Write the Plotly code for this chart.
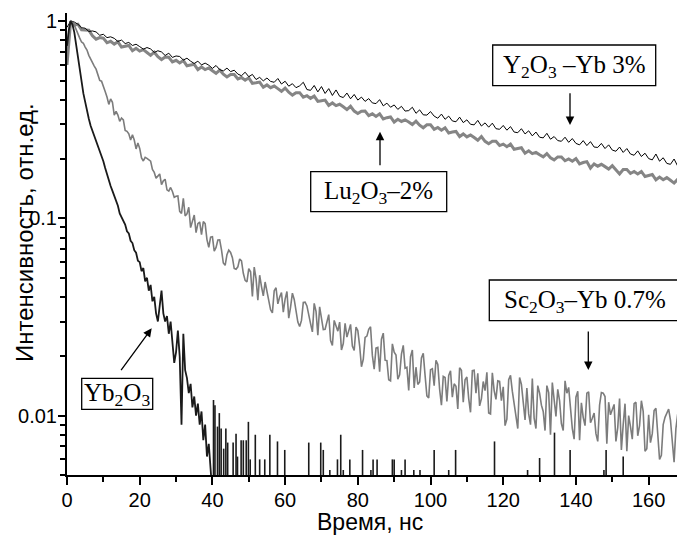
import plotly.graph_objects as go

# ---------------- data ----------------
# 1-ns time grid for Y2O3, Lu2O3 and Sc2O3 curves
t_ns = list(range(0, 171))
# extra half-ns samples of the (very noisy) Sc2O3 curve
t_half_ns = [t + 0.5 for t in range(0, 170)]

# Y2O3-Yb 3%  (intensity x 1e-3)
y2o3_milli = [
    930, 1000, 990, 965, 926, 921, 887, 892, 882, 848,
    858, 825, 833, 818, 789, 802, 770, 780, 753, 764,
    743, 721, 735, 723, 694, 708, 698, 670, 688, 655,
    666, 662, 635, 649, 627, 610, 627, 600, 613, 598,
    576, 596, 568, 559, 578, 555, 564, 539, 529, 551,
    523, 537, 506, 519, 498, 515, 495, 490, 512, 480,
    496, 468, 482, 460, 470, 490, 450, 446, 472, 438,
    466, 430, 455, 420, 448, 416, 410, 432, 404, 425,
    398, 412, 392, 405, 385, 382, 400, 372, 384, 366,
    376, 357, 370, 350, 352, 366, 341, 355, 335, 334,
    348, 330, 322, 338, 318, 330, 312, 309, 326, 306,
    316, 300, 298, 314, 294, 305, 290, 304, 285, 283,
    296, 280, 292, 274, 272, 285, 268, 278, 262, 274,
    258, 256, 270, 252, 260, 248, 246, 258, 243, 254,
    240, 236, 248, 234, 245, 230, 229, 240, 226, 236,
    222, 219, 230, 216, 226, 212, 209, 220, 206, 214,
    201, 198, 212, 195, 203, 190, 188, 200, 184, 190,
    180,
]

# Lu2O3-2%  (intensity x 1e-3)
lu2o3_milli = [
    600, 1000, 955, 965, 905, 900, 900, 843, 810, 826,
    820, 777, 791, 765, 786, 739, 745, 753, 708, 729,
    705, 717, 694, 671, 696, 660, 639, 658, 656, 622,
    633, 614, 631, 594, 599, 604, 568, 586, 568, 579,
    561, 544, 565, 538, 521, 536, 536, 509, 518, 502,
    516, 484, 487, 491, 462, 475, 460, 469, 455, 441,
    458, 436, 422, 434, 434, 412, 419, 406, 417, 392,
    395, 398, 374, 385, 373, 379, 368, 356, 370, 350,
    340, 349, 350, 332, 339, 329, 339, 319, 324, 327,
    308, 318, 310, 316, 308, 299, 311, 297, 288, 298,
    298, 283, 289, 280, 288, 271, 274, 276, 260, 268,
    259, 265, 257, 249, 260, 246, 239, 246, 246, 234,
    238, 231, 238, 224, 226, 228, 214, 220, 213, 216,
    210, 205, 213, 203, 198, 205, 205, 196, 200, 195,
    201, 189, 192, 194, 180, 189, 184, 188, 183, 178,
    185, 176, 168, 177, 177, 169, 173, 168, 173, 163,
    165, 167, 157, 162, 157, 161, 156, 151, 158, 150,
    146,
]

# Sc2O3-Yb 0.7%  (intensity x 1e-4), whole-ns samples
sc2o3_e4 = [
    6000, 10000, 9570, 8665, 7840, 7390, 6710, 6140, 5710, 5010,
    4710, 4125, 4035, 3340, 3340, 3230, 2795, 2685, 2655, 2250,
    2265, 1955, 2015, 1950, 1710, 1650, 1485, 1580, 1375, 1370,
    1295, 1085, 1263, 1054, 898, 1040, 941, 827, 941, 714,
    807, 713, 778, 594, 655, 672, 557, 568, 609, 485,
    556, 402, 495, 515, 405, 423, 344, 430, 369, 421,
    390, 312, 418, 339, 283, 375, 360, 293, 371, 256,
    319, 274, 325, 227, 281, 298, 232, 250, 290, 214,
    270, 177, 249, 274, 202, 220, 167, 262, 190, 150,
    210, 153, 205, 174, 134, 215, 176, 148, 207, 126,
    171, 142, 182, 113, 156, 160, 124, 141, 175, 117,
    157, 104, 170, 164, 122, 134, 103, 165, 121, 149,
    140, 96, 160, 117, 86, 144, 95, 102, 154, 86,
    130, 105, 142, 80, 120, 136, 91, 150, 139, 86,
    124, 75, 98, 130, 92, 103, 74, 131, 125, 117,
    107, 74, 122, 90, 66, 88, 115, 79, 119, 66,
    101, 81, 109, 60, 90, 102, 95, 58, 102, 63,
    90,
]
# Sc2O3-Yb 0.7%  (intensity x 1e-4), half-ns samples (t = 0.5 ... 169.5)
sc2o3_half_e4 = [
    8800, 9840, 9030, 8200, 7730, 7140, 6400, 5920, 5265, 4965,
    4400, 3785, 3880, 3485, 3105, 3160, 2765, 2500, 2495, 2410,
    2025, 2040, 1990, 1770, 1600, 1680, 1550, 1395, 1435, 1280,
    1300, 1060, 1030, 1138, 983, 847, 959, 963, 781, 804,
    683, 777, 692, 578, 690, 632, 552, 623, 527, 476,
    536, 566, 385, 451, 476, 394, 332, 445, 399, 335,
    426, 355, 388, 298, 304, 376, 320, 266, 338, 356,
    273, 297, 240, 304, 268, 215, 294, 266, 225, 281,
    226, 193, 253, 282, 172, 222, 244, 191, 152, 231,
    203, 161, 227, 176, 199, 138, 144, 196, 160, 123,
    173, 191, 136, 158, 118, 169, 145, 108, 170, 152,
    122, 169, 130, 112, 149, 166, 102, 134, 150, 119,
    89, 152, 133, 102, 156, 117, 138, 90, 97, 142,
    113, 84, 131, 147, 99, 119, 84, 130, 109, 76,
    133, 116, 89, 132, 97, 81, 113, 130, 72, 101,
    114, 87, 67, 115, 100, 76, 117, 89, 105, 68,
    73, 106, 84, 63, 98, 108, 72, 86, 61, 93,
]

# Yb2O3: fast decay sampled every 0.5 ns (intensity x 1e-4)
yb_t = [i * 0.5 for i in range(81)]
yb2o3_e4 = [
    7500, 9000, 10000, 9600, 8800, 7600, 6500, 5600, 4800, 4300,
    3900, 3500, 3200, 2950, 2780, 2600, 2460, 2320, 2200, 2100,
    1950, 1800, 1660, 1560, 1460, 1380, 1310, 1220, 1160, 1060,
    1010, 960, 930, 860, 840, 770, 750, 690, 670, 610,
    600, 540, 560, 480, 500, 430, 460, 380, 400, 330,
    300, 360, 430, 330, 300, 320, 260, 300, 240, 185,
    210, 270, 200, 90, 260, 170, 155, 130, 145, 110,
    125, 100, 115, 90, 105, 75, 90, 62, 72, 50,
    40,
]
# Yb2O3 tail: isolated counts rising from the noise floor
yb_spike_t = [40.3, 40.7, 41.4, 41.9, 42.4, 43.1, 43.7, 44.2, 45.7, 46.5,
              46.9, 47.9, 48.5, 49.3, 49.9, 50.4, 51.8, 53.0, 54.4, 55.8,
              57.9, 59.9, 66.5, 69.8, 70.5, 72.3, 74.4, 75.3, 76.0, 77.8,
              81.3, 83.6, 84.2, 85.3, 89.5, 90.0, 92.0, 93.0, 95.4, 97.1,
              101.0, 105.0, 106.9, 117.6, 126.7, 130.0, 134.1, 138.4, 147.7, 148.3,
              153.0]
yb_spike_v = [0.0120, 0.0113, 0.0088, 0.0103, 0.0086, 0.0068, 0.0086, 0.0073, 0.0073, 0.0081,
              0.0062, 0.0075, 0.0075, 0.0075, 0.0093, 0.0060, 0.0080, 0.0060, 0.0060, 0.0080,
              0.0074, 0.0067, 0.0073, 0.0073, 0.0067, 0.0053, 0.0060, 0.0080, 0.0053, 0.0060,
              0.0067, 0.0053, 0.0060, 0.0060, 0.0060, 0.0060, 0.0053, 0.0060, 0.0053, 0.0053,
              0.0067, 0.0053, 0.0067, 0.0074, 0.0053, 0.0061, 0.0082, 0.0067, 0.0053, 0.0067,
              0.0062]
noise_floor = 0.004  # below the visible axis range

x_ticks = [0, 20, 40, 60, 80, 100, 120, 140, 160]
y_tick_vals = [0.01, 0.1, 1]
y_tick_text = ["0.01", "0.1", "1"]
y_minor_vals = [0.005, 0.006, 0.007, 0.008, 0.009,
                0.02, 0.03, 0.04, 0.05, 0.06, 0.07, 0.08, 0.09,
                0.2, 0.3, 0.4, 0.5, 0.6, 0.7, 0.8, 0.9]

# ---------------- figure ----------------
y2o3 = [v / 1000 for v in y2o3_milli]
lu2o3 = [v / 1000 for v in lu2o3_milli]

# merge whole- and half-ns Sc samples in time order
sc_pairs = sorted(list(zip(t_ns, sc2o3_e4)) + list(zip(t_half_ns, sc2o3_half_e4)))
sc_t = [p[0] for p in sc_pairs]
sc2o3 = [p[1] / 10000 for p in sc_pairs]
yb2o3 = [v / 10000 for v in yb2o3_e4]

spk_x, spk_y = [], []
for t, v in zip(yb_spike_t, yb_spike_v):
    spk_x += [t, t, None]
    spk_y += [noise_floor, v, None]

fig = go.Figure()
fig.add_trace(go.Scatter(x=t_ns, y=lu2o3, mode="lines",
                         line=dict(color="#858585", width=3), hoverinfo="skip"))
fig.add_trace(go.Scatter(x=t_ns, y=y2o3, mode="lines",
                         line=dict(color="#000000", width=1), hoverinfo="skip"))
fig.add_trace(go.Scatter(x=sc_t, y=sc2o3, mode="lines",
                         line=dict(color="#7c7c7c", width=1.6), hoverinfo="skip"))
fig.add_trace(go.Scatter(x=yb_t, y=yb2o3, mode="lines",
                         line=dict(color="#1a1a1a", width=1.8), hoverinfo="skip"))
fig.add_trace(go.Scatter(x=spk_x, y=spk_y, mode="lines",
                         line=dict(color="#1a1a1a", width=1.6), hoverinfo="skip"))

# the page body adds an 8 px offset; everything below is given in page pixels
OFF = 8
FIG_W, FIG_H = 685 - OFF, 535 - OFF
L, R, T, B = 67, 685, 13, 475          # plot area in page pixels
W, H = R - L, B - T


def px(x):
    return (x - L) / W


def py(y):
    return (B - y) / H


serif = dict(family="Liberation Serif, Times New Roman, serif", size=25, color="black")
sans = "Liberation Sans, Arial, sans-serif"

boxes = [
    ("Y<sub>2</sub>O<sub>3</sub> –Yb 3%", 492.7, 45, 655.7, 85.7),
    ("Lu<sub>2</sub>O<sub>3</sub>–2%", 310.7, 171.7, 446.7, 211.7),
    ("Sc<sub>2</sub>O<sub>3</sub>–Yb 0.7%", 489.3, 280, 680.7, 320.7),
    ("Yb<sub>2</sub>O<sub>3</sub>", 81.7, 378.3, 152.7, 409.3),
]
shapes = []
annotations = []
for text, x0, y0, x1, y1 in boxes:
    shapes.append(dict(type="rect", xref="paper", yref="paper",
                       x0=px(x0), x1=px(x1), y0=py(y1), y1=py(y0),
                       line=dict(color="black", width=1.3), fillcolor="white", layer="above"))
    annotations.append(dict(text=text, xref="paper", yref="paper",
                            x=px((x0 + x1) / 2), y=py((y0 + y1) / 2 + 1),
                            showarrow=False, font=serif, xanchor="center", yanchor="middle"))

arrows = [  # (tail x, tail y, head x, head y) in page pixels
    (570, 91.7, 570, 125),
    (380, 166.7, 380, 131.7),
    (588.3, 330, 588.3, 370),
    (120, 371.7, 151.7, 328.3),
]
for tx, ty, hx, hy in arrows:
    annotations.append(dict(text="", xref="paper", yref="paper", x=px(hx), y=py(hy),
                            ax=tx - hx, ay=ty - hy, showarrow=True,
                            arrowhead=2, arrowsize=1.3, arrowwidth=1.3, arrowcolor="black"))

annotations.append(dict(text="Интенсивность, отн.ед.", xref="paper", yref="paper",
                        x=px(24), y=py(233), textangle=-90, showarrow=False,
                        xanchor="center", yanchor="middle",
                        font=dict(family=sans, size=24, color="black")))
annotations.append(dict(text="Время, нс", xref="paper", yref="paper",
                        x=px(370), y=py(521.5), showarrow=False,
                        xanchor="center", yanchor="middle",
                        font=dict(family=sans, size=23, color="black")))

fig.update_layout(
    width=FIG_W, height=FIG_H,
    margin=dict(l=L - OFF, r=685 - R, t=T - OFF, b=535 - B, autoexpand=False),
    paper_bgcolor="white", plot_bgcolor="white",
    showlegend=False,
    shapes=shapes, annotations=annotations,
)
fig.update_xaxes(range=[0, 170], showline=True, linecolor="black", linewidth=2,
                 showgrid=False, zeroline=False, automargin=False,
                 tickmode="array", tickvals=x_ticks,
                 ticks="outside", ticklen=8, tickwidth=2, tickcolor="black",
                 ticklabelstandoff=-2,
                 tickfont=dict(family=sans, size=20, color="black"),
                 minor=dict(tickmode="linear", tick0=10, dtick=20, ticks="outside",
                            ticklen=5, tickwidth=2, tickcolor="black", showgrid=False))
fig.update_yaxes(type="log", range=[-2.30103, 0.0414], showline=True, linecolor="black",
                 linewidth=2, showgrid=False, zeroline=False, automargin=False,
                 tickmode="array", tickvals=y_tick_vals, ticktext=y_tick_text,
                 ticks="outside", ticklen=7, tickwidth=2, tickcolor="black",
                 ticklabelstandoff=-3,
                 tickfont=dict(family=sans, size=20, color="black"),
                 minor=dict(tickmode="array", tickvals=y_minor_vals, ticks="outside",
                            ticklen=5, tickwidth=1.5, tickcolor="black", showgrid=False))

fig.write_html("out.html")
